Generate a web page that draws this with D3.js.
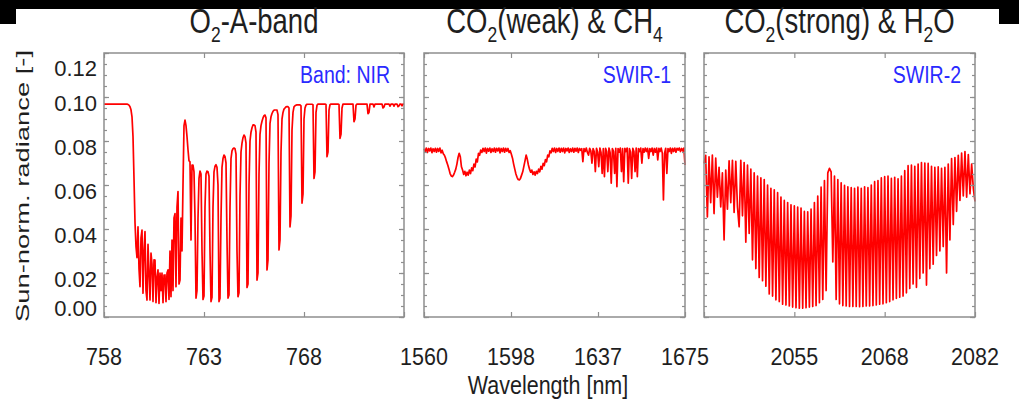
<!DOCTYPE html>
<html>
<head>
<meta charset="utf-8">
<script src="https://cdn.jsdelivr.net/npm/d3@7"></script>
<style>
    body { margin: 0; background: #fff; }
    svg { display: block; font-family: 'Liberation Sans', Arial, Helvetica, sans-serif; }
</style>
</head>
<body>
<svg id="js-spectra"></svg>
<script>
'use strict';

// NIR band (O2 A-band), one sample every 0.05 nm from 758 nm
const nirStart = 758;
const nirStep = 0.05;
const nirRadiance = [
    0.0968, 0.0968, 0.0968, 0.0968, 0.0968, 0.0968, 0.0968, 0.0968, 0.0968, 0.0968, // 758.0
    0.0968, 0.0968, 0.0968, 0.0968, 0.0968, 0.0968, 0.0968, 0.0968, 0.0968, 0.0968, // 758.5
    0.0968, 0.0968, 0.0968, 0.0968, 0.0966, 0.0963, 0.0956, 0.0942, 0.0910, 0.0820, // 759.0
    0.0630, 0.0430, 0.0320, 0.0270, 0.0410, 0.0220, 0.0138, 0.0360, 0.0395, 0.0108, // 759.5
    0.0300, 0.0388, 0.0120, 0.0077, 0.0330, 0.0200, 0.0077, 0.0290, 0.0240, 0.0070, // 760.0
    0.0260, 0.0259, 0.0065, 0.0180, 0.0214, 0.0062, 0.0200, 0.0120, 0.0199, 0.0065, // 760.5
    0.0190, 0.0191, 0.0070, 0.0200, 0.0214, 0.0080, 0.0300, 0.0092, 0.0350, 0.0120, // 761.0
    0.0450, 0.0470, 0.0138, 0.0500, 0.0570, 0.0150, 0.0168, 0.0450, 0.0300, 0.0600, // 761.5
    0.0870, 0.0895, 0.0870, 0.0820, 0.0760, 0.0710, 0.0705, 0.0350, 0.0690, 0.0690, // 762.0
    0.0660, 0.0450, 0.0086, 0.0120, 0.0450, 0.0630, 0.0663, 0.0650, 0.0300, 0.0080, // 762.5
    0.0095, 0.0500, 0.0650, 0.0663, 0.0660, 0.0640, 0.0300, 0.0070, 0.0090, 0.0500, // 763.0
    0.0660, 0.0685, 0.0692, 0.0680, 0.0600, 0.0070, 0.0085, 0.0450, 0.0680, 0.0720, // 763.5
    0.0736, 0.0730, 0.0700, 0.0350, 0.0086, 0.0100, 0.0500, 0.0720, 0.0755, 0.0765, // 764.0
    0.0768, 0.0765, 0.0740, 0.0300, 0.0092, 0.0110, 0.0550, 0.0750, 0.0790, 0.0815, // 764.5
    0.0827, 0.0820, 0.0790, 0.0134, 0.0150, 0.0600, 0.0800, 0.0840, 0.0860, 0.0873, // 765.0
    0.0873, 0.0870, 0.0840, 0.0168, 0.0200, 0.0650, 0.0830, 0.0870, 0.0890, 0.0905, // 765.5
    0.0915, 0.0918, 0.0905, 0.0214, 0.0260, 0.0700, 0.0880, 0.0910, 0.0925, 0.0935, // 766.0
    0.0940, 0.0941, 0.0941, 0.0940, 0.0920, 0.0305, 0.0350, 0.0750, 0.0900, 0.0930, // 766.5
    0.0945, 0.0950, 0.0955, 0.0956, 0.0956, 0.0950, 0.0410, 0.0460, 0.0850, 0.0930, // 767.0
    0.0955, 0.0960, 0.0963, 0.0964, 0.0964, 0.0964, 0.0964, 0.0960, 0.0518, 0.0560, // 767.5
    0.0900, 0.0950, 0.0963, 0.0967, 0.0967, 0.0967, 0.0967, 0.0967, 0.0967, 0.0965, // 768.0
    0.0630, 0.0660, 0.0930, 0.0962, 0.0968, 0.0968, 0.0968, 0.0968, 0.0968, 0.0968, // 768.5
    0.0968, 0.0968, 0.0966, 0.0729, 0.0750, 0.0940, 0.0965, 0.0968, 0.0968, 0.0968, // 769.0
    0.0968, 0.0968, 0.0968, 0.0968, 0.0968, 0.0966, 0.0812, 0.0830, 0.0950, 0.0968, // 769.5
    0.0968, 0.0968, 0.0968, 0.0968, 0.0968, 0.0968, 0.0968, 0.0968, 0.0968, 0.0968, // 770.0
    0.0888, 0.0900, 0.0962, 0.0968, 0.0968, 0.0968, 0.0968, 0.0968, 0.0968, 0.0968, // 770.5
    0.0968, 0.0968, 0.0968, 0.0968, 0.0924, 0.0930, 0.0968, 0.0968, 0.0968, 0.0968, // 771.0
    0.0955, 0.0968, 0.0968, 0.0968, 0.0968, 0.0968, 0.0968, 0.0968, 0.0968, 0.0950, // 771.5
    0.0955, 0.0968, 0.0968, 0.0968, 0.0968, 0.0968, 0.0958, 0.0968, 0.0968, 0.0968, // 772.0
    0.0958, 0.0968, 0.0968, 0.0968, 0.0956, 0.0960, 0.0968, 0.0968, 0.0960, 0.0968, // 772.5
    0.0968                                                                          // 773.0
];

// SWIR-1 (CO2 weak & CH4), one sample every 0.5 nm from 1560 nm
const swir1Start = 1560;
const swir1Step = 0.5;
const swir1Radiance = [
    0.0765, 0.0752, 0.0768, 0.0748, 0.0766, 0.0755, 0.0768, 0.0747, 0.0765, 0.0752, // 1560
    0.0767, 0.0749, 0.0766, 0.0753, 0.0768, 0.0746, 0.0758, 0.0742, 0.0735, 0.0722, // 1565
    0.0705, 0.0690, 0.0672, 0.0652, 0.0641, 0.0638, 0.0645, 0.0658, 0.0672, 0.0695, // 1570
    0.0725, 0.0744, 0.0728, 0.0683, 0.0668, 0.0648, 0.0662, 0.0642, 0.0658, 0.0645, // 1575
    0.0668, 0.0652, 0.0678, 0.0665, 0.0695, 0.0682, 0.0718, 0.0705, 0.0744, 0.0735, // 1580
    0.0759, 0.0748, 0.0767, 0.0752, 0.0768, 0.0745, 0.0766, 0.0754, 0.0768, 0.0748, // 1585
    0.0765, 0.0752, 0.0768, 0.0749, 0.0767, 0.0755, 0.0768, 0.0746, 0.0766, 0.0752, // 1590
    0.0768, 0.0749, 0.0767, 0.0754, 0.0766, 0.0748, 0.0756, 0.0740, 0.0722, 0.0695, // 1595
    0.0672, 0.0650, 0.0635, 0.0625, 0.0623, 0.0630, 0.0645, 0.0660, 0.0685, 0.0710, // 1600
    0.0736, 0.0718, 0.0691, 0.0672, 0.0658, 0.0668, 0.0648, 0.0660, 0.0645, 0.0662, // 1605
    0.0652, 0.0672, 0.0660, 0.0685, 0.0672, 0.0698, 0.0688, 0.0715, 0.0705, 0.0736, // 1610
    0.0728, 0.0755, 0.0746, 0.0767, 0.0752, 0.0768, 0.0748, 0.0766, 0.0753, 0.0768, // 1615
    0.0749, 0.0767, 0.0752, 0.0768, 0.0746, 0.0766, 0.0755, 0.0768, 0.0748, 0.0765, // 1620
    0.0752, 0.0768, 0.0749, 0.0767, 0.0754, 0.0768, 0.0748, 0.0766, 0.0758, 0.0765, // 1625
    0.0706, 0.0766, 0.0752, 0.0768, 0.0748, 0.0736, 0.0767, 0.0755, 0.0699, 0.0766, // 1630
    0.0752, 0.0661, 0.0767, 0.0750, 0.0683, 0.0768, 0.0748, 0.0653, 0.0766, 0.0638, // 1635
    0.0767, 0.0752, 0.0661, 0.0768, 0.0748, 0.0608, 0.0766, 0.0753, 0.0653, 0.0767, // 1640
    0.0592, 0.0766, 0.0749, 0.0768, 0.0661, 0.0765, 0.0615, 0.0767, 0.0752, 0.0768, // 1645
    0.0608, 0.0766, 0.0750, 0.0630, 0.0767, 0.0752, 0.0661, 0.0768, 0.0638, 0.0766, // 1650
    0.0752, 0.0768, 0.0699, 0.0766, 0.0749, 0.0768, 0.0752, 0.0767, 0.0721, 0.0766, // 1655
    0.0752, 0.0768, 0.0736, 0.0766, 0.0749, 0.0768, 0.0714, 0.0767, 0.0752, 0.0768, // 1660
    0.0745, 0.0532, 0.0745, 0.0767, 0.0653, 0.0766, 0.0752, 0.0768, 0.0744, 0.0767, // 1665
    0.0752, 0.0768, 0.0749, 0.0767, 0.0759, 0.0768, 0.0752, 0.0766, 0.0755, 0.0768, // 1670
    0.0691                                                                          // 1675
];

// SWIR-2 (CO2 strong & H2O), one sample every 0.25 nm from 2041.5 nm
const swir2Start = 2041.5;
const swir2Step = 0.25;
const swir2Radiance = [
    0.0698, 0.0735, 0.0455, 0.0728, 0.0520, 0.0736, 0.0470, 0.0722, 0.0545, 0.0680, // 2041.5
    0.0500, 0.0655, 0.0350, 0.0668, 0.0490, 0.0710, 0.0520, 0.0712, 0.0475, 0.0708, // 2044.0
    0.0500, 0.0410, 0.0712, 0.0460, 0.0702, 0.0340, 0.0690, 0.0380, 0.0672, 0.0260, // 2046.5
    0.0655, 0.0220, 0.0640, 0.0180, 0.0632, 0.0165, 0.0625, 0.0140, 0.0600, 0.0105, // 2049.0
    0.0585, 0.0095, 0.0578, 0.0078, 0.0565, 0.0070, 0.0545, 0.0058, 0.0530, 0.0055, // 2051.5
    0.0520, 0.0050, 0.0510, 0.0045, 0.0505, 0.0042, 0.0500, 0.0040, 0.0495, 0.0040, // 2054.0
    0.0480, 0.0042, 0.0478, 0.0045, 0.0490, 0.0048, 0.0520, 0.0052, 0.0550, 0.0065, // 2056.5
    0.0590, 0.0080, 0.0620, 0.0120, 0.0655, 0.0676, 0.0660, 0.0250, 0.0640, 0.0080, // 2059.0
    0.0625, 0.0060, 0.0610, 0.0052, 0.0598, 0.0050, 0.0592, 0.0048, 0.0588, 0.0048, // 2061.5
    0.0585, 0.0048, 0.0590, 0.0047, 0.0585, 0.0048, 0.0592, 0.0050, 0.0588, 0.0050, // 2064.0
    0.0600, 0.0052, 0.0615, 0.0055, 0.0620, 0.0058, 0.0632, 0.0060, 0.0638, 0.0065, // 2066.5
    0.0640, 0.0070, 0.0630, 0.0078, 0.0635, 0.0085, 0.0628, 0.0090, 0.0640, 0.0095, // 2069.0
    0.0665, 0.0110, 0.0688, 0.0130, 0.0690, 0.0150, 0.0685, 0.0135, 0.0695, 0.0175, // 2071.5
    0.0702, 0.0200, 0.0700, 0.0145, 0.0698, 0.0220, 0.0685, 0.0240, 0.0680, 0.0280, // 2074.0
    0.0682, 0.0300, 0.0676, 0.0320, 0.0680, 0.0200, 0.0695, 0.0350, 0.0720, 0.0420, // 2076.5
    0.0725, 0.0480, 0.0735, 0.0530, 0.0745, 0.0550, 0.0752, 0.0545, 0.0738, 0.0560, // 2079.0
    0.0695, 0.0585, 0.0525                                                          // 2081.5
];

const panelDomains = [[758, 773], [1560, 1675], [2041.5, 2082]];
const xTickLabels = [
    ['758', '763', '768', ''],
    ['1560', '1598', '1637', '1675'],
    ['', '2055', '2068', '2082']
];
const yTicks = [0, 0.02, 0.04, 0.06, 0.08, 0.10, 0.12];
const bandLabels = ['Band: NIR', 'SWIR-1', 'SWIR-2'];
// title pieces alternate between normal text and subscripts
const panelTitles = [
    ['O', '2', '-A-band'],
    ['CO', '2', '(weak) & CH', '4'],
    ['CO', '2', '(strong) & H', '2', 'O']
];

(function () {
    const d3 = window.d3;

    const width = 1019;
    const height = 411;
    const plotTop = 53;
    const plotBottom = 317;
    const panelX = [[104, 404], [424, 685], [704, 975]];
    const frameColor = '#8e8e8e';
    const textColor = '#1e1e1e';

    const spectra = [
        {start: nirStart, step: nirStep, values: nirRadiance},
        {start: swir1Start, step: swir1Step, values: swir1Radiance},
        {start: swir2Start, step: swir2Step, values: swir2Radiance}
    ];

    const svg = d3.select('#js-spectra')
        .attr('width', width)
        .attr('height', height);

    svg.append('rect')
        .attr('width', width)
        .attr('height', height)
        .attr('fill', '#fff');

    // black strips along the top edge of the scan
    svg.append('rect').attr('x', 0).attr('y', 0).attr('width', width).attr('height', 9).attr('fill', '#000');
    svg.append('rect').attr('x', 0).attr('y', 0).attr('width', 16).attr('height', 24).attr('fill', '#000');
    svg.append('rect').attr('x', 999).attr('y', 0).attr('width', 20).attr('height', 24).attr('fill', '#000');

    const y = d3.scaleLinear()
        .domain([0, 0.12])
        .range([plotBottom, plotTop]);

    const minorY = d3.range(0, 0.1201, 0.005);

    // text drawn a little taller than wide, like the original figure
    function stretchedText(parent, x, yPos, sy) {
        return parent.append('g')
            .attr('transform', `translate(${x},${yPos}) scale(1,${sy})`)
            .append('text')
            .attr('fill', textColor);
    }

    function styleAxis(g) {
        g.select('.domain').remove();
        g.selectAll('text').remove();
        g.selectAll('line')
            .attr('stroke', frameColor)
            .attr('stroke-width', 1.2);
    }

    spectra.forEach((s, k) => {
        const [lo, hi] = panelDomains[k];
        const [x0, x1] = panelX[k];

        const x = d3.scaleLinear()
            .domain([lo, hi])
            .range([x0, x1]);

        const tickPos = [0, 1, 2, 3].map(j => lo + j * (hi - lo) / 3);
        const panel = svg.append('g');

        const points = s.values.map((v, i) => [s.start + i * s.step, v]);

        panel.append('path')
            .datum(points)
            .attr('fill', 'none')
            .attr('stroke', '#ff0000')
            .attr('stroke-width', 1.7)
            .attr('stroke-linejoin', 'round')
            .attr('d', d3.line()
                .x(d => x(d[0]))
                .y(d => y(d[1])));

        // inward ticks on all four sides
        panel.append('g')
            .attr('transform', `translate(0,${plotBottom})`)
            .call(d3.axisBottom(x).tickValues(tickPos).tickSize(-5).tickFormat(''))
            .call(styleAxis);

        panel.append('g')
            .attr('transform', `translate(0,${plotTop})`)
            .call(d3.axisTop(x).tickValues(tickPos).tickSize(-5).tickFormat(''))
            .call(styleAxis);

        [[d3.axisLeft, x0], [d3.axisRight, x1]].forEach(([axis, pos]) => {
            panel.append('g')
                .attr('transform', `translate(${pos},0)`)
                .call(axis(y).tickValues(minorY).tickSize(-3).tickFormat(''))
                .call(styleAxis);
            panel.append('g')
                .attr('transform', `translate(${pos},0)`)
                .call(axis(y).tickValues(yTicks).tickSize(-5).tickFormat(''))
                .call(styleAxis);
        });

        panel.append('rect')
            .attr('x', x0)
            .attr('y', plotTop)
            .attr('width', x1 - x0)
            .attr('height', plotBottom - plotTop)
            .attr('fill', 'none')
            .attr('stroke', frameColor)
            .attr('stroke-width', 1.5);

        // x tick labels
        tickPos.forEach((t, j) => {
            if (!xTickLabels[k][j]) {
                return;
            }
            stretchedText(panel, x(t), 365, 1.1)
                .attr('text-anchor', 'middle')
                .attr('font-size', 21.5)
                .text(xTickLabels[k][j]);
        });

        // band label
        stretchedText(panel, x1 - 14, 83, 1.25)
            .attr('text-anchor', 'end')
            .attr('font-size', 19.5)
            .attr('fill', '#2a2aff')
            .text(bandLabels[k]);

        // panel title with subscripts
        const title = stretchedText(panel, (x0 + x1) / 2, 33, 1.25)
            .attr('text-anchor', 'middle')
            .attr('font-size', 27.5);

        panelTitles[k].forEach((part, j) => {
            const sub = j % 2 === 1;
            title.append('tspan')
                .attr('font-size', sub ? 17.5 : 27.5)
                .attr('dy', j === 0 ? 0 : (sub ? 7 : -7))
                .text(part);
        });
    });

    // y tick labels on the first panel only; the end labels sit inside the frame
    const labelShift = d => (d === 0 ? -9 : (d === 0.12 ? 15 : 6));

    svg.append('g')
        .selectAll('text')
        .data(yTicks)
        .join('text')
        .attr('x', 97)
        .attr('y', d => y(d) + labelShift(d))
        .attr('dy', '0.35em')
        .attr('text-anchor', 'end')
        .attr('font-size', 22)
        .attr('fill', textColor)
        .text(d3.format('.2f'));

    svg.append('text')
        .attr('transform', 'translate(29,186) rotate(-90)')
        .attr('text-anchor', 'middle')
        .attr('font-size', 19)
        .attr('fill', textColor)
        .attr('textLength', 272)
        .attr('lengthAdjust', 'spacingAndGlyphs')
        .text('Sun-norm. radiance [-]');

    stretchedText(svg, 548, 394, 1.2)
        .attr('text-anchor', 'middle')
        .attr('font-size', 21.5)
        .text('Wavelength [nm]');
})();
</script>
</body>
</html>
